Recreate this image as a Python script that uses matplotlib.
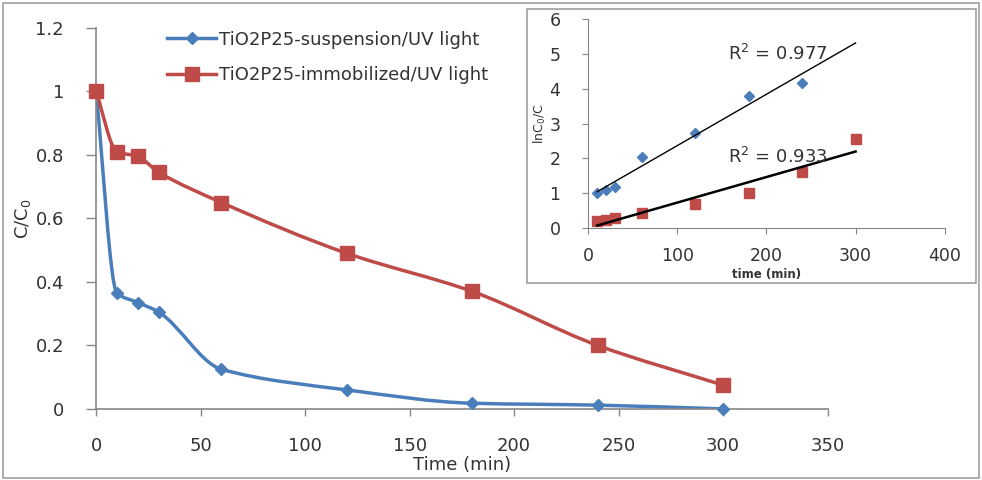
import numpy as np
import matplotlib
matplotlib.use('Agg')
import matplotlib.pyplot as plt
from matplotlib.path import Path
from matplotlib.patches import PathPatch, Rectangle
from matplotlib.lines import Line2D

# main chart data (C/C0 vs time)
time_min = [0, 10, 20, 30, 60, 120, 180, 240, 300]
susp = [1.0, 0.365, 0.335, 0.305, 0.125, 0.06, 0.018, 0.012, 0.0]
immob = [1.0, 0.81, 0.795, 0.745, 0.65, 0.49, 0.37, 0.2, 0.075]
labels = ['TiO2P25-suspension/UV light', 'TiO2P25-immobilized/UV light']

# inset data (ln C0/C vs time)
t_susp = [10, 20, 30, 60, 120, 180, 240]
ln_susp = [1.0, 1.08, 1.17, 2.03, 2.73, 3.8, 4.18]
t_immob = [10, 20, 30, 60, 120, 180, 240, 300]
ln_immob = [0.2, 0.24, 0.28, 0.43, 0.7, 1.0, 1.6, 2.57]

BLUE = '#4A7EBB'
RED = '#BE4B48'
GRAY = '#868686'
TXT = '#333333'


def smooth_path(x, y):
    # smoothed line as bezier segments, monotone tangents (no overshoot)
    x = np.asarray(x, float); y = np.asarray(y, float)
    h = np.diff(x)
    d = np.diff(y) / h
    m = np.zeros_like(y)
    m[0], m[-1] = d[0], d[-1]
    for i in range(1, len(y) - 1):
        if d[i - 1] * d[i] > 0:
            m[i] = 2.0 / (1.0 / d[i - 1] + 1.0 / d[i])
    verts = [(x[0], y[0])]
    codes = [Path.MOVETO]
    for i in range(len(x) - 1):
        verts += [(x[i] + h[i] / 3, y[i] + m[i] * h[i] / 3),
                  (x[i + 1] - h[i] / 3, y[i + 1] - m[i + 1] * h[i] / 3),
                  (x[i + 1], y[i + 1])]
        codes += [Path.CURVE4] * 3
    return Path(verts, codes)


plt.rcParams['font.family'] = 'DejaVu Sans'
fig = plt.figure(figsize=(9.82, 4.8), dpi=100)

# outer frame
fig.patches.append(Rectangle((0.003, 0.004), 0.994, 0.99, transform=fig.transFigure,
                             fill=False, edgecolor='#A0A0A0', lw=1.2))

ax = fig.add_axes([0.0978, 0.148, 0.745, 0.794])
for yy, col, mk, ms in [(susp, BLUE, 'D', 6), (immob, RED, 's', 10)]:
    ax.add_patch(PathPatch(smooth_path(time_min, yy), fill=False, edgecolor=col, lw=2.5, zorder=2))
    ax.plot(time_min, yy, linestyle='none', marker=mk, ms=ms, color=col, zorder=3, clip_on=False)

ax.set_xlim(0, 350)
ax.set_ylim(0, 1.2)
ax.set_xticks(np.arange(0, 351, 50))
ax.set_yticks([0, 0.2, 0.4, 0.6, 0.8, 1.0, 1.2])
ax.set_yticklabels(['0', '0.2', '0.4', '0.6', '0.8', '1', '1.2'])
for s in ['top', 'right']:
    ax.spines[s].set_visible(False)
for s in ['left', 'bottom']:
    ax.spines[s].set_color(GRAY)
    ax.spines[s].set_linewidth(1.2)
ax.tick_params(axis='both', colors=GRAY, labelcolor=TXT, labelsize=13, width=1)
ax.tick_params(axis='x', length=5, pad=15)
ax.tick_params(axis='y', length=7, pad=16)
ax.set_xlabel('Time (min)', fontsize=13, color=TXT, labelpad=1)
ax.set_ylabel('C/C$_0$', fontsize=13, color=TXT, labelpad=2)

handles = [Line2D([], [], color=BLUE, marker='D', ms=6, lw=2.5),
           Line2D([], [], color=RED, marker='s', ms=10, lw=2.5)]
ax.legend(handles, labels, loc='upper left', bbox_to_anchor=(0.075, 1.035), frameon=False,
          fontsize=13, handlelength=2.7, handletextpad=0.15, labelspacing=0.95,
          labelcolor=TXT)

# inset
fig.patches.append(Rectangle((0.537, 0.41), 0.457, 0.572, transform=fig.transFigure,
                             facecolor='white', edgecolor='#A0A0A0', lw=1.2, zorder=5))
ins = fig.add_axes([0.599, 0.525, 0.363, 0.435], zorder=6)
ins.patch.set_alpha(0)
ins.plot(t_susp, ln_susp, linestyle='none', marker='D', ms=5, color=BLUE)
ins.plot(t_immob, ln_immob, linestyle='none', marker='s', ms=7, color=RED)

k1, b1 = np.polyfit(t_susp, ln_susp, 1)
k2, b2 = np.polyfit(t_immob, ln_immob, 1)
xs = np.array([10, 300])
ins.plot(xs, k1 * xs + b1, color='black', lw=1)
ins.plot(xs, k2 * xs + b2, color='black', lw=1.8)
ins.text(157, 5.0, 'R$^2$ = 0.977', fontsize=13, color=TXT, va='center')
ins.text(157, 2.05, 'R$^2$ = 0.933', fontsize=13, color=TXT, va='center')

ins.set_xlim(0, 400)
ins.set_ylim(0, 6)
ins.set_xticks([0, 100, 200, 300, 400])
ins.set_yticks(range(7))
for s in ['top', 'right']:
    ins.spines[s].set_visible(False)
for s in ['left', 'bottom']:
    ins.spines[s].set_color(GRAY)
ins.tick_params(axis='both', colors=GRAY, labelcolor=TXT, labelsize=12.5, length=4)
ins.tick_params(axis='x', pad=10)
ins.tick_params(axis='y', pad=16)
ins.set_xlabel('time (min)', fontsize=8.5, fontweight='bold', color=TXT, labelpad=2)
ins.set_ylabel('lnC$_0$/C', fontsize=9, color=TXT, labelpad=1)

fig.savefig('out.png', dpi=100)
